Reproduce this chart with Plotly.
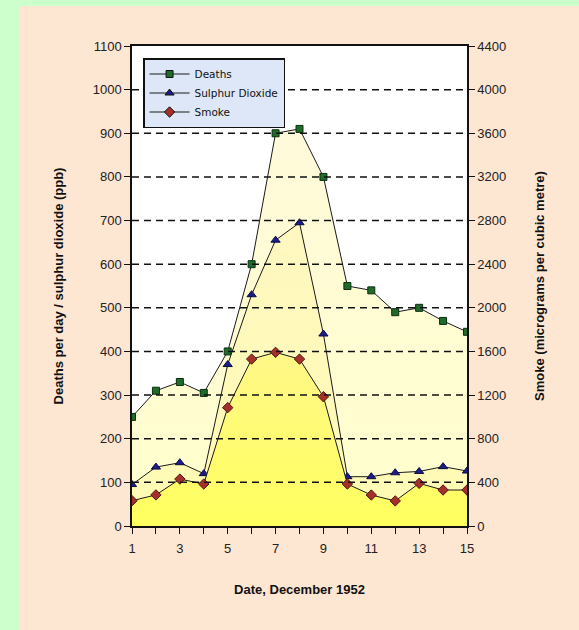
import plotly.graph_objects as go

days = list(range(1, 16))
deaths = [250, 310, 330, 305, 400, 600, 900, 910, 800, 550, 540, 490, 500, 470, 445]
so2 = [95, 135, 145, 120, 370, 530, 655, 695, 440, 113, 113, 122, 125, 136, 126]
smoke = [232, 285, 430, 385, 1085, 1530, 1592, 1530, 1185, 385, 284, 230, 391, 330, 330]

x_tickvals = list(range(1, 16))
x_ticktext = [str(d) if d % 2 == 1 else "" for d in x_tickvals]
left_ticks = list(range(0, 1101, 100))
right_ticks = list(range(0, 4401, 400))

FONT = "Liberation Sans, Arial, sans-serif"
fig = go.Figure()

fig.add_trace(go.Scatter(
    x=days, y=deaths, mode="lines+markers", fill="tozeroy",
    fillgradient=dict(type="vertical", colorscale=[[0, "#FFFFCC"], [1, "#FFFADA"]]),
    line=dict(color="#1a1a1a", width=1),
    marker=dict(symbol="square", size=7, color="#1f6b2a", line=dict(color="#0d2e10", width=1)),
    showlegend=False, yaxis="y"))
fig.add_trace(go.Scatter(
    x=days, y=so2, mode="lines+markers", fill="tozeroy",
    fillgradient=dict(type="vertical", colorscale=[[0, "#FFFCB4"], [1, "#FFF7C0"]]),
    line=dict(color="#1a1a1a", width=1),
    marker=dict(symbol="triangle-up", size=8, color="#1c1c8c", line=dict(color="#0a0a40", width=1)),
    showlegend=False, yaxis="y"))
fig.add_trace(go.Scatter(
    x=days, y=smoke, mode="lines+markers", fill="tozeroy",
    fillgradient=dict(type="vertical", colorscale=[[0, "#FFFF5E"], [1, "#FFF788"]]),
    line=dict(color="#1a1a1a", width=1),
    marker=dict(symbol="diamond", size=8, color="#a3302a", line=dict(color="#5a1410", width=1)),
    showlegend=False, yaxis="y2"))

# legend entries
for name, sym, col, sz in [("Deaths", "square", "#1f6b2a", 7),
                           ("Sulphur Dioxide", "triangle-up", "#1c1c8c", 8),
                           ("Smoke", "diamond", "#a3302a", 8)]:
    fig.add_trace(go.Scatter(x=[None], y=[None], mode="lines+markers", name=name,
                             line=dict(color="#1a1a1a", width=1),
                             marker=dict(symbol=sym, size=sz, color=col, line=dict(color="#111", width=1))))

# dashed grid lines drawn above the filled areas
grid_shapes = [dict(type="line", xref="paper", yref="y", x0=0, x1=1, y0=v, y1=v,
                    line=dict(color="#111", width=1.5, dash="7px,5px"), layer="above")
               for v in left_ticks[1:-1]]

fig.update_layout(
    width=579, height=630,
    margin=dict(l=132, r=112, t=46, b=104),
    paper_bgcolor="#FDE6D2",
    plot_bgcolor="white",
    font=dict(family=FONT, size=12, color="#222"),
    showlegend=True,
    legend=dict(x=0.033, y=0.975, xanchor="left", yanchor="top",
                bgcolor="#DDE7F8", bordercolor="#111", borderwidth=1.5,
                font=dict(family="DejaVu Sans, sans-serif", size=10.5, color="#111"),
                tracegroupgap=0, itemwidth=40),
    xaxis=dict(range=[1, 15], tickvals=x_tickvals, ticktext=x_ticktext,
               showline=True, linecolor="#111", linewidth=1.5, mirror=True,
               ticks="outside", ticklen=6, tickcolor="#111", showgrid=False, zeroline=False,
               tickfont=dict(size=13, color="#222"), ticklabelstandoff=4,
               title=dict(text="<b>Date, December 1952</b>", font=dict(size=13, color="#111"), standoff=30)),
    yaxis=dict(range=[0, 1100], tickvals=left_ticks,
               showline=True, linecolor="#111", linewidth=1.5,
               ticks="outside", ticklen=6, tickcolor="#111",
               showgrid=False, zeroline=False,
               tickfont=dict(size=13, color="#222"),
               title=dict(text="<b>Deaths per day / sulphur dioxide (ppb)</b>", font=dict(size=13, color="#111"), standoff=26)),
    yaxis2=dict(range=[0, 4400], tickvals=right_ticks, overlaying="y", side="right",
                showline=True, linecolor="#111", linewidth=1.5,
                ticks="outside", ticklen=6, tickcolor="#111", showgrid=False, zeroline=False,
                tickfont=dict(size=13, color="#222"),
                title=dict(text="<b>Smoke (micrograms per cubic metre)</b>", font=dict(size=13, color="#111"), standoff=30)),
    shapes=[
        dict(type="rect", xref="paper", yref="paper", x0=-0.5, x1=(20 - 132) / 335,
             y0=-0.3, y1=1.2, fillcolor="#CCFFCC", line=dict(width=0), layer="below"),
        dict(type="rect", xref="paper", yref="paper", x0=-0.5, x1=1.5,
             y0=(526 - 6) / 480, y1=1.2, fillcolor="#CCFFCC", line=dict(width=0), layer="below"),
    ] + grid_shapes,
)

fig.write_html("out.html")
